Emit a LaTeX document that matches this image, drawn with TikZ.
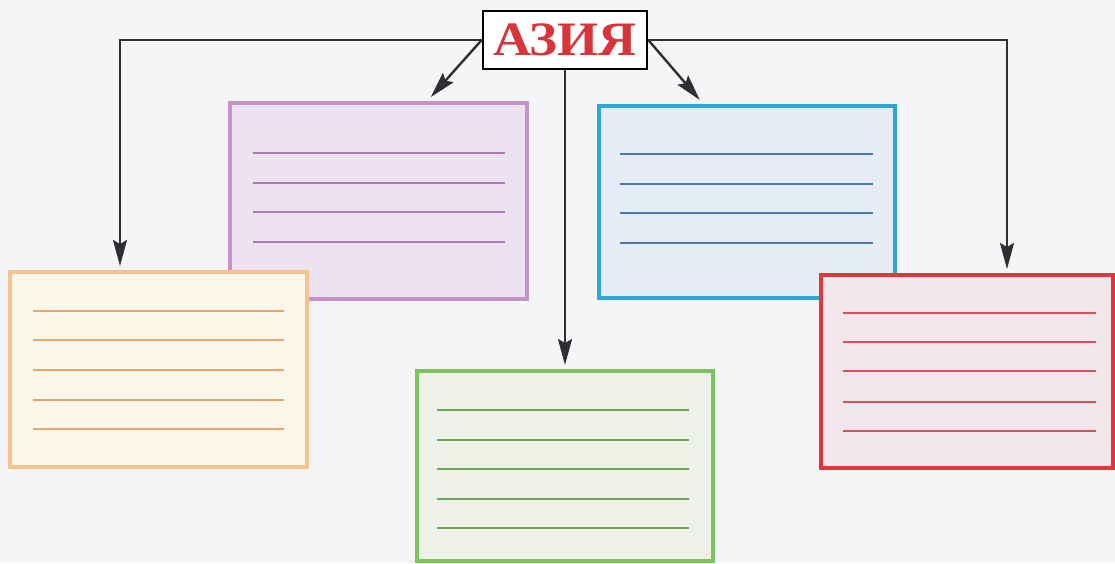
\documentclass[tikz,border=0pt]{standalone}
\usepackage{fontspec}
\usepackage{graphicx}
\newfontfamily\titlefont{Liberation Serif}
\usetikzlibrary{arrows.meta,calc}
\definecolor{bgcol}{HTML}{F4F5F7}
\definecolor{pborder}{HTML}{C792CB}
\definecolor{pfill}{HTML}{EDE3F0}
\definecolor{pline}{HTML}{A97DB3}
\definecolor{bborder}{HTML}{2EA6DA}
\definecolor{bfill}{HTML}{E5ECF5}
\definecolor{bline}{HTML}{4777B5}
\definecolor{oborder}{HTML}{F5C38E}
\definecolor{ofill}{HTML}{FAF7EA}
\definecolor{oline}{HTML}{E9A565}
\definecolor{gborder}{HTML}{7DC25C}
\definecolor{gfill}{HTML}{EEF1E7}
\definecolor{gline}{HTML}{6DA64E}
\definecolor{rborder}{HTML}{E0363B}
\definecolor{rfill}{HTML}{F2E5EC}
\definecolor{rline}{HTML}{D9505A}
\definecolor{titlered}{HTML}{D8353B}
\definecolor{arrcol}{HTML}{2E2E33}
\tikzset{
  card/.style={rectangle, anchor=north west, line width=2.2pt, inner sep=0pt, outer sep=0pt},
  rule/.style={line width=1pt},
  arr/.style={draw=arrcol, line width=1.2pt, -{Stealth[length=13pt,width=7pt,inset=2pt]}},
  titlebox/.style={rectangle, draw=black, line width=1.3pt, fill=white, minimum width=82pt, minimum height=29pt, inner sep=0pt, font=\titlefont\bfseries\fontsize{24}{24}\selectfont, text=titlered}
}
\begin{document}
\begin{tikzpicture}[x=0.5pt,y=-0.5pt]
\fill[bgcol] (0,0) rectangle (1115,563);
\useasboundingbox (0,0) rectangle (1115,563);
% back boxes
\node[card, draw=pborder, fill=pfill, minimum width=148.5pt, minimum height=98pt] (p) at (230,103) {};
\foreach \y in {153,183,212,242} \draw[rule, pline] (253,\y) -- (505,\y);
\node[card, draw=bborder, fill=bfill, minimum width=148pt, minimum height=96pt] (b) at (599,106) {};
\foreach \y in {154,184,213,243} \draw[rule, bline] (620,\y) -- (873,\y);
% front boxes
\node[card, draw=oborder, fill=ofill, minimum width=148.5pt, minimum height=97.5pt] (o) at (10,272) {};
\foreach \y in {311,340,370,400,429} \draw[rule, oline] (33,\y) -- (284,\y);
\node[card, draw=rborder, fill=rfill, minimum width=146pt, minimum height=96.5pt] (r) at (821,275) {};
\foreach \y in {313,342,371,402,431} \draw[rule, rline] (843,\y) -- (1096,\y);
\node[card, draw=gborder, fill=gfill, minimum width=148pt, minimum height=95pt] (g) at (417,371) {};
\foreach \y in {410,440,469,499,528} \draw[rule, gline] (437,\y) -- (689,\y);
% title
\node[titlebox] (t) at (565,40) {\scalebox{1.1}[1]{АЗИЯ}};
% connectors
\draw[arr, shorten >=3pt] (t.west) -| ($(o.north west)+(110,0)$);
\draw[arr, shorten >=4pt] (t.west) -- ($(p.north)+(47,0)$);
\draw[arr, shorten >=4pt] (t.east) -- ($(b.north)+(-42,0)$);
\draw[arr, shorten >=3pt] (t.east) -| ($(r.north west)+(186,0)$);
\draw[arr, shorten >=3pt] (t.south) -- (g.north);
\end{tikzpicture}
\end{document}
